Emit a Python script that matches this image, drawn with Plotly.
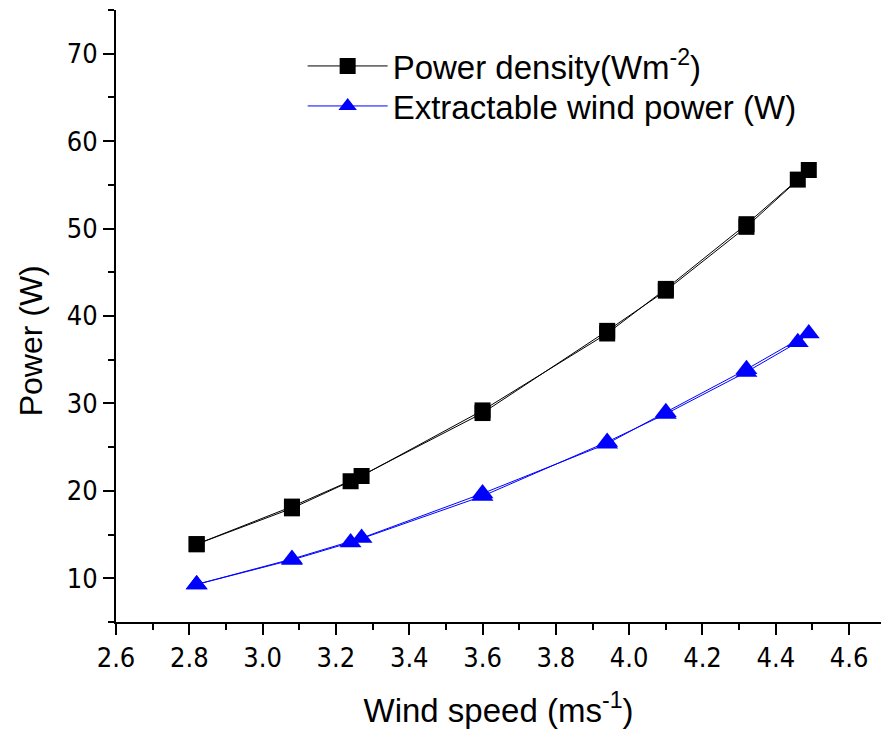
import plotly.graph_objects as go

# Path order of the measurements (ascending pass then descending pass)
wind_speed_pd = [2.82, 3.08, 3.24, 3.60, 3.94, 4.10, 4.32, 4.46, 4.49, 4.32, 4.10, 3.94, 3.60, 3.27, 3.08, 2.82]
power_density = [13.9, 18.0, 21.1, 28.9, 38.3, 42.9, 50.2, 55.6, 56.7, 50.5, 43.1, 38.0, 29.2, 21.7, 18.2, 13.9]

wind_speed_ep = [2.82, 3.08, 3.24, 3.60, 3.94, 4.10, 4.32, 4.46, 4.49, 4.32, 4.10, 3.94, 3.60, 3.27, 3.08, 2.82]
extractable_power = [9.3, 12.1, 14.1, 19.4, 25.6, 28.8, 33.6, 37.0, 38.0, 33.9, 29.0, 25.4, 19.7, 14.6, 12.2, 9.3]

legend_names = ["Power density(Wm<sup>-2</sup>)", "Extractable wind power (W)"]
x_title = "Wind speed (ms<sup>-1</sup>)"
y_title = "Power (W)"

FONT = "Liberation Sans, Arial, sans-serif"
TICK_FONT = "Liberation Sans Narrow, Arial Narrow, DejaVu Sans Condensed, sans-serif"

fig = go.Figure()
fig.add_trace(go.Scatter(
    x=wind_speed_pd, y=power_density, name=legend_names[0], mode="lines+markers",
    line=dict(color="black", width=1),
    marker=dict(symbol="square", size=16, color="black"),
    legend="legend",
))
fig.add_trace(go.Scatter(
    x=wind_speed_ep, y=extractable_power, name=legend_names[1], mode="lines+markers",
    line=dict(color="#0000ff", width=1),
    marker=dict(symbol="triangle-up", size=19, color="#0000ff"),
    legend="legend2",
))

axis_common = dict(
    showgrid=False, zeroline=False, showline=True, linecolor="black", linewidth=2,
    ticks="outside", ticklen=11, tickwidth=2, tickcolor="black",
    tickfont=dict(family=TICK_FONT, size=27, color="black"),
    mirror=False,
)
fig.update_xaxes(
    range=[2.6, 4.687], tick0=2.6, dtick=0.2, tickformat=".1f",
    minor=dict(dtick=0.1, ticks="outside", ticklen=6, tickwidth=2, tickcolor="black"),
    title=dict(text=x_title, font=dict(family=FONT, size=33, color="black"), standoff=30),
    **axis_common,
)
fig.update_yaxes(
    range=[5, 75], tick0=10, dtick=10,
    minor=dict(dtick=5, ticks="outside", ticklen=6, tickwidth=2, tickcolor="black"),
    **axis_common,
)

legend_common = dict(
    xanchor="left", yanchor="middle",
    font=dict(family=FONT, size=33, color="black"),
    bgcolor="rgba(0,0,0,0)", borderwidth=0, itemwidth=80,
)
fig.update_layout(
    width=881, height=729,
    margin=dict(l=116, r=0, t=10, b=107, pad=0),
    plot_bgcolor="white", paper_bgcolor="white",
    showlegend=True,
    legend=dict(x=0.244, y=1 - (66 - 10) / 612, **legend_common),
    legend2=dict(x=0.244, y=1 - (106 - 10) / 612, **legend_common),
    annotations=[dict(
        text=y_title, textangle=-90, showarrow=False,
        xref="paper", yref="paper", x=-0.11, y=0.46, xanchor="center", yanchor="middle",
        font=dict(family=FONT, size=32, color="black"),
    )],
)

fig.write_html("out.html")
